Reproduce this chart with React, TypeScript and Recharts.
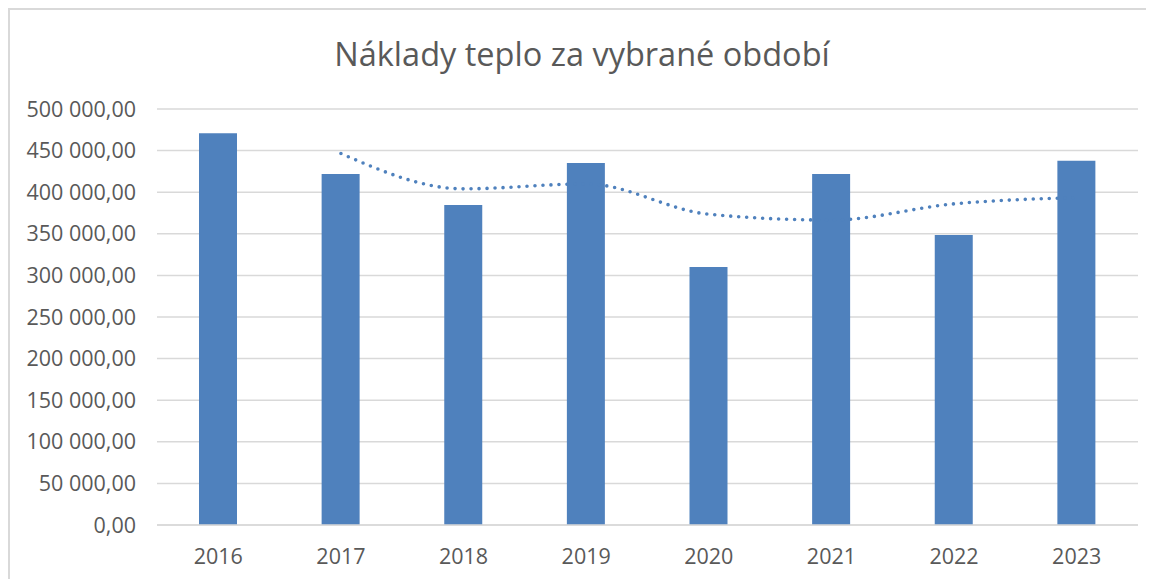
import React from "react";
import {
  ComposedChart,
  Bar,
  Line,
  XAxis,
  YAxis,
  CartesianGrid,
} from "recharts";

const years = ["2016", "2017", "2018", "2019", "2020", "2021", "2022", "2023"];
const costs = [471000, 422000, 384500, 435000, 310000, 422000, 348500, 437700];
// klouzavý průměr (2 období)
const trend = [null, 446500, 404000, 410000, 373500, 366500, 386000, 393500];
const yTicks = [0, 50000, 100000, 150000, 200000, 250000, 300000, 350000, 400000, 450000, 500000];

const data = years.map((y, i) => ({ year: y, cost: costs[i], trend: trend[i] }));

const fmt = (v: number) => {
  const whole = Math.floor(v)
    .toString()
    .replace(/\B(?=(\d{3})+(?!\d))/g, " ");
  return whole + ",00";
};

const FONT = "'Open Sans', sans-serif";
const GREY = "#595959";
const BLUE = "#4F81BD";

export default function App() {
  return (
    <div
      style={{
        position: "relative",
        width: 1144,
        height: 570,
        borderTop: "2px solid #d9d9d9",
        borderLeft: "2px solid #d9d9d9",
        background: "#fff",
        fontFamily: FONT,
      }}
    >
      <style>{`body{overflow:hidden}`}</style>
      <div
        style={{
          position: "absolute",
          top: 21,
          left: 0,
          width: "100%",
          textAlign: "center",
          fontSize: 32.5,
          color: GREY,
        }}
      >
        Náklady teplo za vybrané období
      </div>
      <ComposedChart
        width={1144}
        height={570}
        data={data}
        margin={{ top: 99, right: 16, bottom: 0, left: 0 }}
        barCategoryGap="34%"
      >
        <CartesianGrid vertical={false} stroke="#d9d9d9" strokeWidth={1.5} />
        <XAxis
          dataKey="year"
          height={55}
          tickLine={false}
          tickSize={0}
          tickMargin={24}
          axisLine={{ stroke: "#d9d9d9", strokeWidth: 1.5 }}
          tick={{ fill: GREY, fontSize: 21.5, fontFamily: FONT }}
        />
        <YAxis
          width={147}
          domain={[0, 500000]}
          ticks={yTicks}
          tickFormatter={fmt}
          axisLine={false}
          tickLine={false}
          tickSize={0}
          tickMargin={21}
          tick={{ fill: GREY, fontSize: 21.5, fontFamily: FONT }}
        />
        <Line
          dataKey="trend"
          type="monotone"
          stroke={BLUE}
          strokeWidth={3.6}
          strokeDasharray="0 8"
          strokeLinecap="round"
          dot={false}
          activeDot={false}
          connectNulls
          isAnimationActive={false}
        />
        <Bar dataKey="cost" fill={BLUE} barSize={38} isAnimationActive={false} />
      </ComposedChart>
    </div>
  );
}
